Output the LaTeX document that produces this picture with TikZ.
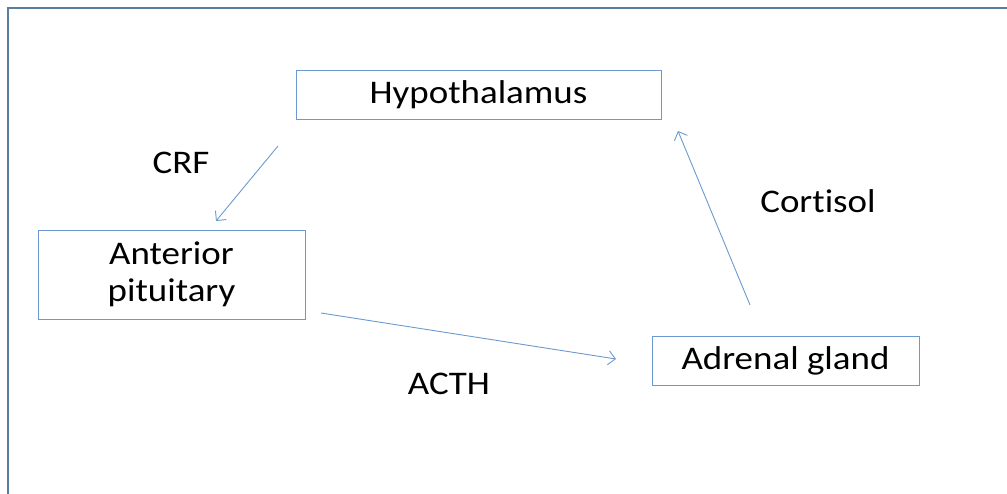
\documentclass[tikz,border=0pt]{standalone}
\usepackage{fontspec}
\setmainfont[Ligatures=NoCommon,FakeStretch=1.12]{Carlito}
\usetikzlibrary{arrows.meta}
\definecolor{frame}{HTML}{5B7BA0}
\definecolor{boxc}{HTML}{6C9AD0}
\begin{document}
\begin{tikzpicture}[x=1pt,y=-1pt,
  box/.style={draw=boxc,line width=0.9pt,inner sep=0pt,font=\fontsize{33}{37}\selectfont},
  lbl/.style={font=\fontsize{33}{37}\selectfont,inner sep=0pt},
  conn/.style={draw=boxc,line width=0.9pt,-{Straight Barb[length=7pt,width=14pt]}}]
\useasboundingbox (0,0) rectangle (1007,493);
\draw[frame,line width=1.6pt] (1010,8) -- (8,8) -- (8,496);
\node[box,minimum width=365pt,minimum height=49pt] (hyp) at (478.5,94.5) {Hypothalamus};
\node[box,minimum width=267pt,minimum height=89pt,align=center] (ant) at (171.5,274.5) {Anterior\\pituitary};
\node[box,minimum width=267pt,minimum height=49pt] (adr) at (785.5,360.5) {Adrenal gland};
\coordinate (c1) at (278,146);
\coordinate (c2) at (216,221);
\coordinate (c3) at (750,305);
\coordinate (c4) at (678,131);
\coordinate (c5) at (321,313);
\coordinate (c6) at (616,359);
\draw[conn] (c1) -- (c2);
\draw[conn] (c3) -- (c4);
\draw[conn] (c5) -- (c6);
\node[lbl] (crf) at (181,163) {CRF};
\node[lbl] (cort) at (818,201) {Cortisol};
\node[lbl] (acth) at (449,384) {ACTH};
\end{tikzpicture}
\end{document}
